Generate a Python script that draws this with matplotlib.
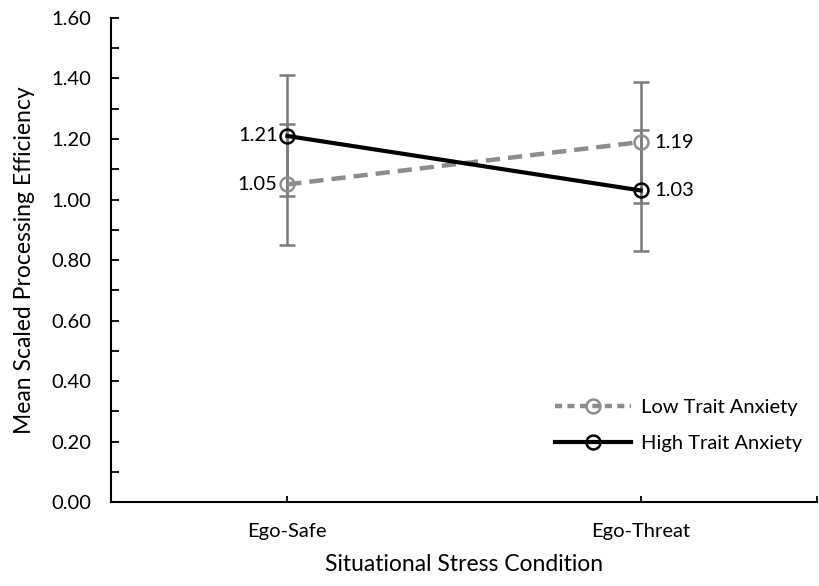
import matplotlib
matplotlib.use("Agg")
import matplotlib.pyplot as plt
from matplotlib.lines import Line2D
import numpy as np

conditions = ["Ego-Safe", "Ego-Threat"]
low_trait = [1.05, 1.19]
high_trait = [1.21, 1.03]
low_err = [0.20, 0.20]
high_err = [0.20, 0.20]

plt.rcParams['font.family'] = ['Lato', 'DejaVu Sans']

GRAY = '#8c8c8c'
ERR = '#7a7a7a'
TICK_FS = 14.5
TITLE_FS = 16.5

fig = plt.figure(figsize=(8.19, 5.86), dpi=100)
ax = fig.add_axes([0.1352, 0.1433, 0.8626, 0.826])

x = np.arange(len(conditions))

# error bars first, so the open markers sit on top of them
for vals, errs in [(low_trait, low_err), (high_trait, high_err)]:
    ax.errorbar(x, vals, yerr=errs, fmt='none', ecolor=ERR, elinewidth=1.8,
                capsize=5.5, capthick=1.8, zorder=2)

ax.plot(x, low_trait, color=GRAY, lw=3.2, dashes=(3.2, 1.8), dash_capstyle='butt',
        marker='o', ms=10, mfc='none', mec=GRAY, mew=1.8, zorder=3,
        label='Low Trait Anxiety')
ax.plot(x, high_trait, color='black', lw=3.0, marker='o', ms=10,
        mfc='none', mec='black', mew=1.8, zorder=4, label='High Trait Anxiety')

# value labels: left of the first condition, right of the second
for vals in (low_trait, high_trait):
    ax.annotate(f"{vals[0]:.2f}", (x[0], vals[0]), xytext=(-7, 0),
                textcoords='offset points', ha='right', va='center', fontsize=TICK_FS)
    ax.annotate(f"{vals[1]:.2f}", (x[1], vals[1]), xytext=(10, 0),
                textcoords='offset points', ha='left', va='center', fontsize=TICK_FS)

ax.set_xlim(-0.5, 1.5)
ax.set_ylim(0, 1.6)
ax.set_yticks(np.arange(0, 1.61, 0.2))
ax.set_yticks(np.arange(0.1, 1.6, 0.2), minor=True)
ax.set_yticklabels([f"{v:.2f}" for v in np.arange(0, 1.61, 0.2)])
ax.set_xticks(x)
ax.set_xticklabels(conditions)
ax.set_xticks([1.5], minor=True)

for s in ('top', 'right'):
    ax.spines[s].set_visible(False)
for s in ('left', 'bottom'):
    ax.spines[s].set_linewidth(1.5)

ax.tick_params(axis='y', which='both', direction='in', length=5.5, width=1.3,
               labelsize=TICK_FS, pad=14)
ax.tick_params(axis='x', which='both', direction='in', length=4, width=1.3,
               labelsize=TICK_FS, pad=15)

ax.set_xlabel("Situational Stress Condition", fontsize=TITLE_FS, labelpad=10)
ax.set_ylabel("Mean Scaled Processing Efficiency", fontsize=TITLE_FS, labelpad=12)

handles = [
    Line2D([], [], color=GRAY, lw=3.2, dashes=(1.6, 1.2), marker='o', ms=10,
           mfc='none', mec=GRAY, mew=1.8),
    Line2D([], [], color='black', lw=3.0, marker='o', ms=10, mfc='none',
           mec='black', mew=1.8),
]
ax.legend(handles, ['Low Trait Anxiety', 'High Trait Anxiety'], loc='lower right',
          bbox_to_anchor=(1.005, 0.066), frameon=False, fontsize=TICK_FS,
          handlelength=3.8, handletextpad=0.5, labelspacing=0.95)

fig.savefig("out.png", dpi=100)
